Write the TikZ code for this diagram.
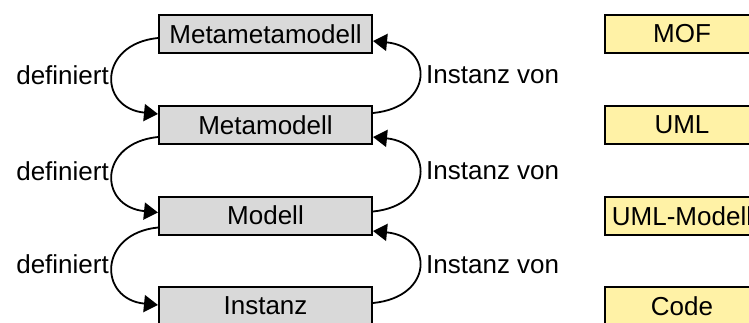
\documentclass[tikz,border=0pt]{standalone}
\usepackage{fontspec}
\setmainfont{Liberation Sans}
\usetikzlibrary{arrows.meta}
\definecolor{boxgray}{RGB}{217,217,217}
\definecolor{boxyellow}{RGB}{255,242,166}
\begin{document}
\begin{tikzpicture}[x=1pt,y=-1pt,
  level/.style={draw=black, line width=2pt, fill=boxgray, minimum width=213pt,
    minimum height=38pt, inner sep=0pt, font=\fontsize{26}{30}\selectfont},
  example/.style={draw=black, line width=2pt, fill=boxyellow, minimum width=154pt,
    minimum height=38pt, inner sep=0pt, font=\fontsize{26}{30}\selectfont},
  link/.style={line width=1.8pt, -{Triangle[length=14pt 0, width=17pt 0]}},
  lbl/.style={inner sep=0pt, font=\fontsize{26}{30}\selectfont}]
\useasboundingbox (0,0) rectangle (749,322);
\clip (0,0) rectangle (749,322);

% the four modelling levels
\node[level] (m1) at (265.5,34)  {Metametamodell};
\node[level] (m2) at (265.5,125) {Metamodell};
\node[level] (m3) at (265.5,215.5) {Modell};
\node[level] (m4) at (265.5,306) {Instanz};

% concrete examples per level
\node[example] (e1) at (682,34)  {MOF};
\node[example] (e2) at (682,125) {UML};
\node[example] (e3) at (682,216) {UML-Modell};
\node[example] (e4) at (682,306) {Code};

% "definiert" arcs on the left
\draw[link] ([yshift=-4pt]m1.west)  .. controls +(-60,6) and +(-60,-6) .. ([yshift=11pt]m2.west);
\draw[link] ([yshift=-12pt]m2.west) .. controls +(-60,6) and +(-60,-6) .. ([yshift=3pt]m3.west);
\draw[link] ([yshift=-12pt]m3.west) .. controls +(-60,6) and +(-60,-6) .. ([yshift=1pt]m4.west);

% "Instanz von" arcs on the right
\draw[link] ([yshift=12pt]m2.east) .. controls +(61,-6) and +(61,6) .. ([yshift=-7pt]m1.east);
\draw[link] ([yshift=4pt]m3.east)  .. controls +(61,-6) and +(61,6) .. ([yshift=-12pt]m2.east);
\draw[link] ([yshift=3pt]m4.east)  .. controls +(61,-6) and +(61,6) .. ([yshift=-15.5pt]m3.east);

% labels
\node[lbl, anchor=east] (d1) at (109,75)  {definiert};
\node[lbl, anchor=east] (d2) at (109,171) {definiert};
\node[lbl, anchor=east] (d3) at (109,264) {definiert};
\node[lbl, anchor=west] (i1) at (426,75)  {Instanz von};
\node[lbl, anchor=west] (i2) at (426,171) {Instanz von};
\node[lbl, anchor=west] (i3) at (426,265) {Instanz von};
\end{tikzpicture}
\end{document}
